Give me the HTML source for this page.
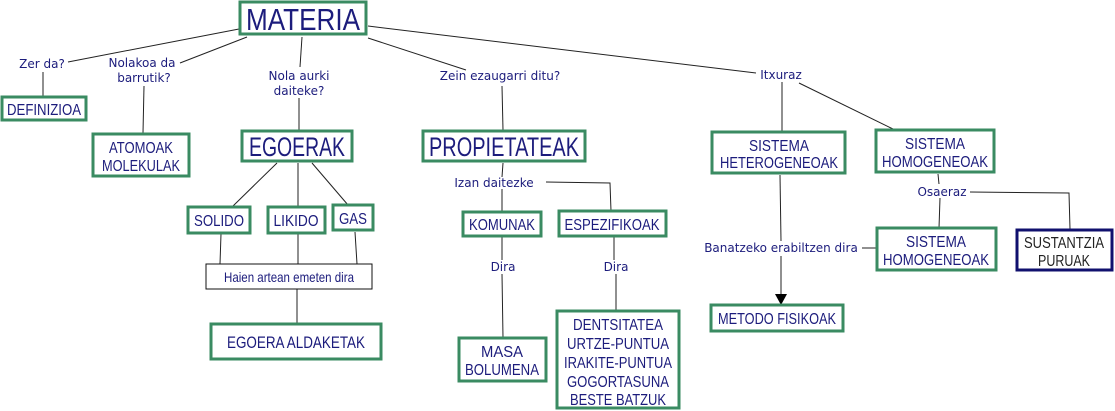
<!DOCTYPE html>
<html><head><meta charset="utf-8"><style>
html,body{margin:0;padding:0;background:#fff;width:1115px;height:411px;overflow:hidden}
svg{display:block}
.b{fill:#fff;stroke:#3a8b62;stroke-width:3}
.t{font-family:"Liberation Sans",Arial,sans-serif;fill:#1c1c7c;text-anchor:middle}
.l{font-family:"DejaVu Sans","Liberation Sans",sans-serif;fill:#1c1c7c;font-size:12px;text-anchor:middle}
line,polyline{stroke:#222;stroke-width:1;fill:none}
</style></head><body>
<svg width="1115" height="411" viewBox="0 0 1115 411" xmlns="http://www.w3.org/2000/svg">
<line x1="239" y1="29" x2="68" y2="62"/>
<line x1="247" y1="37" x2="180" y2="63"/>
<line x1="302" y1="37" x2="300" y2="67"/>
<line x1="368" y1="38" x2="466" y2="70"/>
<line x1="368" y1="26" x2="756" y2="73"/>
<line x1="43" y1="72" x2="43" y2="96"/>
<line x1="144" y1="86" x2="143" y2="133"/>
<line x1="299" y1="98" x2="299" y2="130"/>
<line x1="502" y1="86" x2="503" y2="130"/>
<line x1="782" y1="82" x2="782" y2="131"/>
<line x1="799" y1="83" x2="893" y2="129"/>
<line x1="277" y1="163" x2="233" y2="206"/>
<line x1="298" y1="163" x2="298" y2="206"/>
<line x1="312" y1="163" x2="348" y2="205"/>
<line x1="221" y1="234" x2="220" y2="264"/>
<line x1="298" y1="234" x2="298" y2="264"/>
<line x1="355" y1="232" x2="357" y2="264"/>
<line x1="297" y1="289" x2="297" y2="324"/>
<line x1="503" y1="163" x2="502" y2="177"/>
<line x1="502" y1="189" x2="502" y2="211"/>
<polyline points="546,182 610,183 611,211"/>
<line x1="502" y1="237" x2="502" y2="260"/>
<line x1="502" y1="274" x2="503" y2="338"/>
<line x1="614" y1="236" x2="614" y2="260"/>
<line x1="616" y1="274" x2="616" y2="311"/>
<line x1="780" y1="175" x2="781" y2="241"/>
<line x1="781" y1="256" x2="781" y2="295"/>
<polygon points="775,294 787,294 781,305" fill="#000"/>
<line x1="862" y1="248" x2="878" y2="248"/>
<line x1="938" y1="174" x2="939" y2="184"/>
<line x1="940" y1="198" x2="939" y2="228"/>
<polyline points="970,192 1069,193 1070,229"/>

<rect class="b" x="240" y="2" width="126" height="32"/>
<text class="t" x="303" y="30" font-size="31" textLength="114" lengthAdjust="spacingAndGlyphs">MATERIA</text>

<rect class="b" x="2" y="97" width="84" height="23"/>
<text class="t" x="44" y="115" font-size="16" textLength="74" lengthAdjust="spacingAndGlyphs">DEFINIZIOA</text>

<rect class="b" x="93" y="134" width="96" height="42"/>
<text class="t" x="141" y="153" font-size="16" textLength="64" lengthAdjust="spacingAndGlyphs">ATOMOAK</text>
<text class="t" x="141" y="171" font-size="16" textLength="78" lengthAdjust="spacingAndGlyphs">MOLEKULAK</text>

<rect class="b" x="242" y="131" width="110" height="30"/>
<text class="t" x="297" y="156" font-size="27" textLength="96" lengthAdjust="spacingAndGlyphs">EGOERAK</text>

<rect class="b" x="423" y="131" width="162" height="30"/>
<text class="t" x="504" y="156" font-size="27" textLength="150" lengthAdjust="spacingAndGlyphs">PROPIETATEAK</text>

<rect class="b" x="712" y="132" width="133" height="41"/>
<text class="t" x="779" y="151" font-size="16" textLength="60" lengthAdjust="spacingAndGlyphs">SISTEMA</text>
<text class="t" x="779" y="168" font-size="16" textLength="118" lengthAdjust="spacingAndGlyphs">HETEROGENEOAK</text>

<rect class="b" x="876" y="130" width="118" height="42"/>
<text class="t" x="935" y="149" font-size="16" textLength="60" lengthAdjust="spacingAndGlyphs">SISTEMA</text>
<text class="t" x="935" y="167" font-size="16" textLength="106" lengthAdjust="spacingAndGlyphs">HOMOGENEOAK</text>

<rect class="b" x="188" y="207" width="62" height="26"/>
<text class="t" x="219" y="226" font-size="16" textLength="50" lengthAdjust="spacingAndGlyphs">SOLIDO</text>
<rect class="b" x="268" y="207" width="57" height="26"/>
<text class="t" x="296" y="226" font-size="16" textLength="45" lengthAdjust="spacingAndGlyphs">LIKIDO</text>
<rect class="b" x="333" y="205" width="40" height="25"/>
<text class="t" x="353" y="224" font-size="16" textLength="28" lengthAdjust="spacingAndGlyphs">GAS</text>

<rect x="206" y="264" width="166" height="25" fill="#fff" stroke="#111" stroke-width="1"/>
<text class="t" x="289" y="282" font-size="14" textLength="130" lengthAdjust="spacingAndGlyphs">Haien artean emeten dira</text>

<rect class="b" x="211" y="324" width="170" height="35"/>
<text class="t" x="296" y="348" font-size="17" textLength="138" lengthAdjust="spacingAndGlyphs">EGOERA ALDAKETAK</text>

<rect class="b" x="463" y="212" width="78" height="24"/>
<text class="t" x="502" y="230" font-size="16" textLength="66" lengthAdjust="spacingAndGlyphs">KOMUNAK</text>
<rect class="b" x="559" y="211" width="107" height="25"/>
<text class="t" x="612" y="230" font-size="16" textLength="95" lengthAdjust="spacingAndGlyphs">ESPEZIFIKOAK</text>

<rect class="b" x="459" y="338" width="87" height="43"/>
<text class="t" x="502" y="357" font-size="16" textLength="42" lengthAdjust="spacingAndGlyphs">MASA</text>
<text class="t" x="502" y="375" font-size="16" textLength="74" lengthAdjust="spacingAndGlyphs">BOLUMENA</text>

<rect class="b" x="557" y="311" width="122" height="97"/>
<text class="t" x="618" y="330" font-size="16" textLength="90" lengthAdjust="spacingAndGlyphs">DENTSITATEA</text>
<text class="t" x="618" y="349" font-size="16" textLength="102" lengthAdjust="spacingAndGlyphs">URTZE-PUNTUA</text>
<text class="t" x="618" y="368" font-size="16" textLength="108" lengthAdjust="spacingAndGlyphs">IRAKITE-PUNTUA</text>
<text class="t" x="618" y="387" font-size="16" textLength="102" lengthAdjust="spacingAndGlyphs">GOGORTASUNA</text>
<text class="t" x="618" y="405" font-size="16" textLength="96" lengthAdjust="spacingAndGlyphs">BESTE BATZUK</text>

<rect class="b" x="711" y="305" width="132" height="26"/>
<text class="t" x="777" y="324" font-size="16" textLength="118" lengthAdjust="spacingAndGlyphs">METODO FISIKOAK</text>

<rect class="b" x="877" y="228" width="119" height="42"/>
<text class="t" x="936" y="247" font-size="16" textLength="60" lengthAdjust="spacingAndGlyphs">SISTEMA</text>
<text class="t" x="936" y="265" font-size="16" textLength="106" lengthAdjust="spacingAndGlyphs">HOMOGENEOAK</text>

<rect x="1017" y="230" width="95" height="40" fill="#fff" stroke="#10106e" stroke-width="3"/>
<text class="t" x="1064" y="248" font-size="16" style="fill:#222" textLength="80" lengthAdjust="spacingAndGlyphs">SUSTANTZIA</text>
<text class="t" x="1064" y="266" font-size="16" style="fill:#222" textLength="52" lengthAdjust="spacingAndGlyphs">PURUAK</text>

<text class="l" x="42" y="68">Zer da?</text>
<text class="l" x="142" y="67">Nolakoa da</text>
<text class="l" x="144" y="82">barrutik?</text>
<text class="l" x="299" y="80">Nola aurki</text>
<text class="l" x="299" y="95">daiteke?</text>
<text class="l" x="500" y="80">Zein ezaugarri ditu?</text>
<text class="l" x="781" y="79">Itxuraz</text>
<text class="l" x="494" y="187">Izan daitezke</text>
<text class="l" x="503" y="271">Dira</text>
<text class="l" x="616" y="271">Dira</text>
<text class="l" x="781" y="252">Banatzeko erabiltzen dira</text>
<text class="l" x="942" y="196">Osaeraz</text>
</svg>
</body></html>
